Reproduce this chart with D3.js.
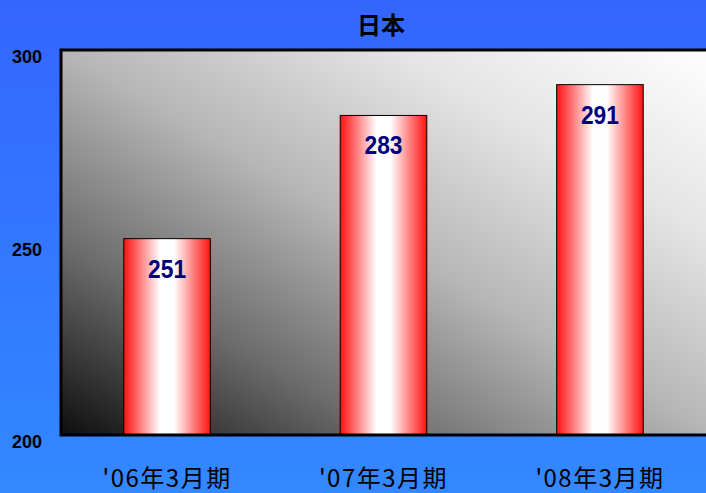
<!DOCTYPE html>
<html>
<head>
<meta charset="utf-8">
<script src="https://cdn.jsdelivr.net/npm/d3@7"></script>
<style>
  body { margin: 0; padding: 0; overflow: hidden; }
  svg { display: block; }
</style>
</head>
<body>
<div id="chart"></div>
<script>
// data
var categories = ["'06年3月期", "'07年3月期", "'08年3月期"];
var values = [251, 283, 291];
var yTicks = [200, 250, 300];
var title = "日本";

var width = 706, height = 493;
var margin = {top: 50, right: 0, bottom: 58, left: 61};

var svg = d3.select("#chart").append("svg")
    .attr("width", width)
    .attr("height", height);

var defs = svg.append("defs");

// page background, blue top to lighter blue bottom
var bgGrad = defs.append("linearGradient").attr("id", "bgGrad")
    .attr("x1", 0).attr("y1", 0).attr("x2", 0).attr("y2", 1);
bgGrad.append("stop").attr("offset", "0%").attr("stop-color", "#3366ff");
bgGrad.append("stop").attr("offset", "100%").attr("stop-color", "#3388ff");

// plot area, dark bottom-left to white top-right (eased so it stays light longer)
var plotGrad = defs.append("linearGradient").attr("id", "plotGrad")
    .attr("x1", 0).attr("y1", 1).attr("x2", 1).attr("y2", 0);
[["0%", "#0e0e0e"], ["25%", "#6c6c6c"], ["50%", "#b6b6b6"], ["75%", "#e4e4e4"], ["100%", "#ffffff"]]
  .forEach(function(s){
    plotGrad.append("stop").attr("offset", s[0]).attr("stop-color", s[1]);
  });

// bars, red - white - red across
var barGrad = defs.append("linearGradient").attr("id", "barGrad")
    .attr("x1", 0).attr("y1", 0).attr("x2", 1).attr("y2", 0);
barGrad.append("stop").attr("offset", "0%").attr("stop-color", "#ff1010");
barGrad.append("stop").attr("offset", "42%").attr("stop-color", "#ffffff");
barGrad.append("stop").attr("offset", "58%").attr("stop-color", "#ffffff");
barGrad.append("stop").attr("offset", "100%").attr("stop-color", "#ff1010");

svg.append("rect")
    .attr("width", width)
    .attr("height", height)
    .attr("fill", "url(#bgGrad)");

var plotW = width - margin.left - margin.right;
var plotH = height - margin.top - margin.bottom;

var x = d3.scaleBand()
    .domain(categories)
    .range([0, plotW])
    .paddingInner(0.6)
    .paddingOuter(0.29);

var y = d3.scaleLinear()
    .domain([200, 300])
    .range([plotH, 0]);

var g = svg.append("g")
    .attr("transform", "translate(" + margin.left + "," + margin.top + ")");

g.append("rect")
    .attr("width", plotW + 10)
    .attr("height", plotH)
    .attr("fill", "url(#plotGrad)");

// bars
g.selectAll(".bar")
    .data(values)
    .enter().append("rect")
    .attr("class", "bar")
    .attr("x", function(d, i){ return x(categories[i]); })
    .attr("y", function(d){ return y(d); })
    .attr("width", x.bandwidth())
    .attr("height", function(d){ return plotH - y(d); })
    .attr("fill", "url(#barGrad)")
    .attr("stroke", "#000")
    .attr("stroke-width", 1);

// value labels inside the top of each bar
g.selectAll(".val")
    .data(values)
    .enter().append("text")
    .attr("class", "val")
    .attr("x", function(d, i){ return x(categories[i]) + x.bandwidth() / 2; })
    .attr("y", function(d){ return y(d) + 39; })
    .attr("text-anchor", "middle")
    .attr("font-family", "'Liberation Sans', Arial, sans-serif")
    .attr("font-weight", "bold")
    .attr("font-size", 25)
    .attr("textLength", 38)
    .attr("lengthAdjust", "spacingAndGlyphs")
    .attr("fill", "#000080")
    .text(function(d){ return d; });

// plot frame: left, top, bottom
g.append("path")
    .attr("d", "M" + (plotW + 10) + ",0H0V" + plotH + "H" + (plotW + 10))
    .attr("fill", "none")
    .attr("stroke", "#000")
    .attr("stroke-width", 3);

// y axis labels
var yAxis = d3.axisLeft(y).tickValues(yTicks).tickSize(0).tickPadding(19);
var ya = g.append("g").call(yAxis);
ya.select(".domain").remove();
ya.selectAll("text")
    .attr("font-family", "'Liberation Sans', Arial, sans-serif")
    .attr("font-weight", "bold")
    .attr("font-size", 18)
    .attr("fill", "#000")
    .attr("dy", "0.7em");

// x axis labels
var xAxis = d3.axisBottom(x).tickSize(0).tickPadding(35);
var xa = g.append("g")
    .attr("transform", "translate(0," + plotH + ")")
    .call(xAxis);
xa.select(".domain").remove();
xa.selectAll("text")
    .attr("font-family", "'Noto Sans CJK JP', sans-serif")
    .attr("font-size", 24)
    .attr("letter-spacing", "1.5px")
    .attr("fill", "#000");

// title
svg.append("text")
    .attr("x", 381)
    .attr("y", 34)
    .attr("text-anchor", "middle")
    .attr("font-family", "'Noto Sans CJK JP', sans-serif")
    .attr("font-weight", "bold")
    .attr("font-size", 24)
    .attr("fill", "#000")
    .text(title);
</script>
</body>
</html>
